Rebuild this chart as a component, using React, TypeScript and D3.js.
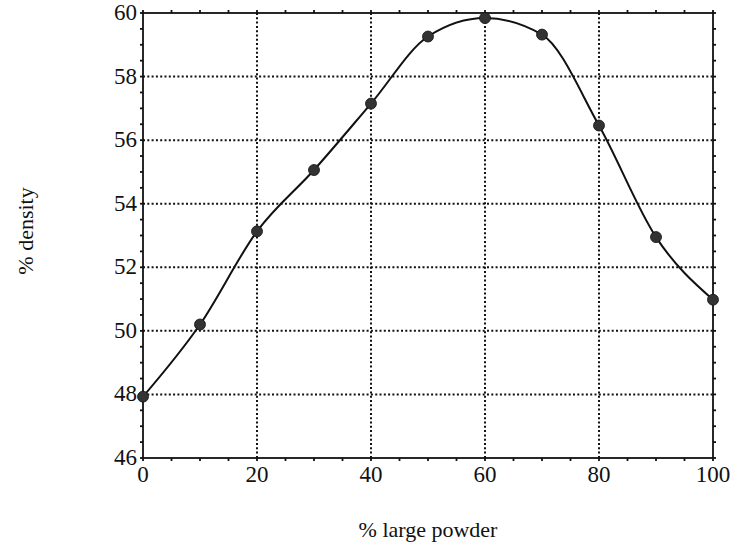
import React, {useEffect, useRef} from 'react';
import * as d3 from 'd3';

const largePowder = [0, 10, 20, 30, 40, 50, 60, 70, 80, 90, 100];
const density = [47.93, 50.2, 53.13, 55.06, 57.15, 59.26, 59.84, 59.32, 56.46, 52.95, 50.98];
const xTicks = [0, 20, 40, 60, 80, 100];
const yTicks = [46, 48, 50, 52, 54, 56, 58, 60];

const W = 731;
const H = 546;

const DensityChart = () => {
    const svgRef = useRef<SVGSVGElement | null>(null);

    useEffect(() => {
        const svg = d3.select(svgRef.current);
        svg.selectAll('*').remove();

        const left = 143, right = 713, top = 13, bottom = 458;
        const font = '"Liberation Serif", "DejaVu Serif", serif';

        const x = d3.scaleLinear().domain([0, 100]).range([left, right]);
        const y = d3.scaleLinear().domain([46, 60]).range([bottom, top]);

        // dotted grid
        const grid = svg.append('g')
            .attr('stroke', '#111')
            .attr('stroke-width', 2)
            .attr('stroke-dasharray', '2,2.3');
        grid.selectAll('line.gx')
            .data(xTicks.filter(d => d > 0 && d < 100))
            .join('line')
            .attr('x1', d => x(d)).attr('x2', d => x(d))
            .attr('y1', top).attr('y2', bottom);
        grid.selectAll('line.gy')
            .data(yTicks.filter(d => d > 46 && d < 60))
            .join('line')
            .attr('x1', left).attr('x2', right)
            .attr('y1', d => y(d)).attr('y2', d => y(d));

        // axes on all four sides
        const minorX = d3.range(0, 101, 5);
        const minorY = d3.range(46, 60.01, 0.5);
        const frame = svg.append('g').attr('fill', 'none').attr('stroke', '#111').attr('stroke-width', 1.8);
        frame.append('rect')
            .attr('x', left).attr('y', top)
            .attr('width', right - left).attr('height', bottom - top);
        frame.selectAll('line.tb')
            .data(minorX)
            .join('line')
            .attr('x1', d => x(d)).attr('x2', d => x(d))
            .attr('y1', bottom).attr('y2', bottom + 3);
        frame.selectAll('line.tt')
            .data(minorX)
            .join('line')
            .attr('x1', d => x(d)).attr('x2', d => x(d))
            .attr('y1', top).attr('y2', top - 3);
        frame.selectAll('line.tl')
            .data(minorY)
            .join('line')
            .attr('x1', left - 3).attr('x2', left)
            .attr('y1', d => y(d)).attr('y2', d => y(d));
        frame.selectAll('line.tr')
            .data(minorY)
            .join('line')
            .attr('x1', right).attr('x2', right + 3)
            .attr('y1', d => y(d)).attr('y2', d => y(d));

        // tick labels
        svg.append('g')
            .selectAll('text')
            .data(xTicks)
            .join('text')
            .attr('x', d => x(d))
            .attr('y', bottom + 24)
            .attr('text-anchor', 'middle')
            .attr('font-family', font)
            .attr('font-size', 23)
            .attr('fill', '#111')
            .text(d => d);
        svg.append('g')
            .selectAll('text')
            .data(yTicks)
            .join('text')
            .attr('x', left - 6)
            .attr('y', d => y(d) + 7)
            .attr('text-anchor', 'end')
            .attr('font-family', font)
            .attr('font-size', 23)
            .attr('fill', '#111')
            .text(d => d);

        // axis titles
        svg.append('text')
            .attr('x', 428).attr('y', 537)
            .attr('text-anchor', 'middle')
            .attr('font-family', font)
            .attr('font-size', 22)
            .attr('fill', '#111')
            .text('% large powder');
        svg.append('text')
            .attr('transform', 'translate(33,231) rotate(-90)')
            .attr('text-anchor', 'middle')
            .attr('font-family', font)
            .attr('font-size', 22)
            .attr('fill', '#111')
            .text('% density');

        // fitted curve
        const pts = largePowder.map((v, i) => [v, density[i]] as [number, number]);
        const line = d3.line<[number, number]>()
            .x(d => x(d[0]))
            .y(d => y(d[1]))
            .curve(d3.curveMonotoneX);
        svg.append('path')
            .attr('d', line(pts))
            .attr('fill', 'none')
            .attr('stroke', '#111')
            .attr('stroke-width', 2);

        svg.append('g')
            .selectAll('circle')
            .data(pts)
            .join('circle')
            .attr('cx', d => x(d[0]))
            .attr('cy', d => y(d[1]))
            .attr('r', 5.5)
            .attr('fill', '#333')
            .attr('stroke', '#111')
            .attr('stroke-width', 0.8);
    }, []);

    return (
        <svg ref={svgRef} width={W} height={H}
             style={{position: 'absolute', left: 0, top: 0, background: '#fff'}}></svg>
    );
};

export default function App() {
    return <DensityChart/>;
}
